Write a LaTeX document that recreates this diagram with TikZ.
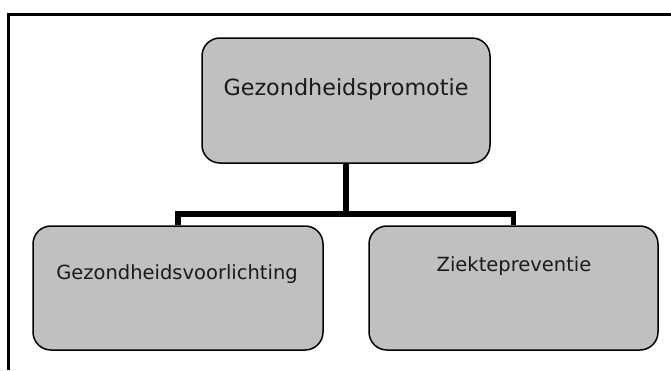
\documentclass[tikz,border=0pt]{standalone}
\usepackage{fontspec}
\setmainfont{DejaVu Sans}
\usetikzlibrary{positioning}
\definecolor{boxfill}{HTML}{C0C0C0}
\definecolor{ink}{HTML}{1A1A1A}

\begin{document}
\begin{tikzpicture}[x=1pt, y=-1pt,
    box/.style={draw, line width=1.5pt, fill=boxfill, rounded corners=18pt, inner sep=0pt},
    lbl/.style={anchor=base, text=ink, inner sep=0pt},
    conn/.style={line width=5.5pt, line join=miter}]
  \useasboundingbox (0,0) rectangle (671,370);
  % frame
  \draw[line width=2.2pt] (8.5,370) -- (8.5,14.5) -- (671,14.5);
  % boxes
  \node[box, minimum width=288pt, minimum height=125pt] (promo) at (346,100.5) {};
  \node[box, minimum width=290pt, minimum height=124pt] (voorl) at (178,288) {};
  \node[box, minimum width=289pt, minimum height=124pt] (prev) at (513.5,288) {};
  % texts
  \node[lbl, font=\fontsize{22.3}{26}\selectfont] (promoT) at (346,95) {Gezondheidspromotie};
  \node[lbl, font=\fontsize{19.5}{23}\selectfont] (voorlT) at (177,279) {Gezondheidsvoorlichting};
  \node[lbl, font=\fontsize{19.5}{23}\selectfont] (prevT) at (514,271) {Ziektepreventie};
  % connectors
  \draw[conn] (promo.south) -- ++(0,50) coordinate (fork);
  \draw[conn] (voorl.north) |- (fork) -| (prev.north);
\end{tikzpicture}
\end{document}
